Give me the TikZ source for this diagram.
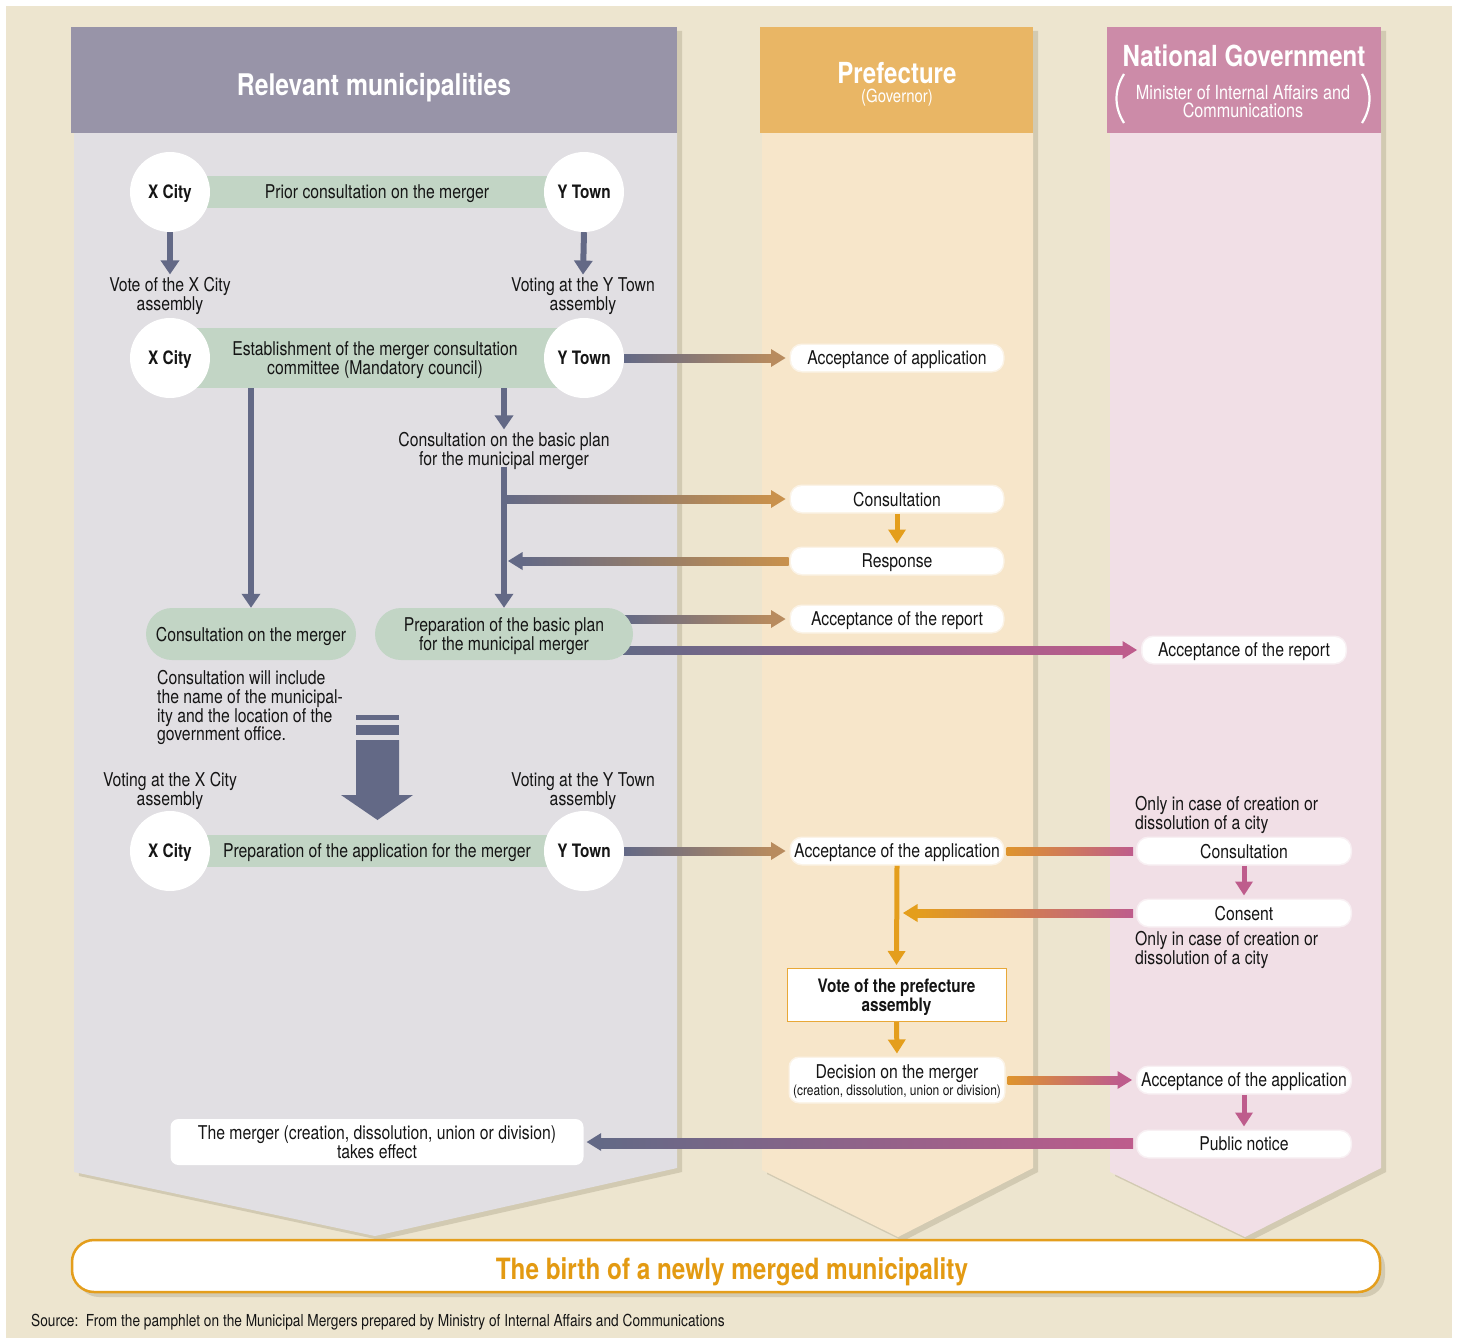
\documentclass[tikz,border=0pt]{standalone}
\usepackage{fontspec}
\setmainfont{TeX Gyre Heros}[FakeStretch=0.83]
\usetikzlibrary{arrows.meta,calc,shapes.misc}
\definecolor{bgc}{HTML}{EDE5CF}
\definecolor{shad}{HTML}{D2CAB2}
\definecolor{lhead}{HTML}{9894A8}
\definecolor{lbody}{HTML}{E1DFE3}
\definecolor{phead}{HTML}{E9B665}
\definecolor{pbody}{HTML}{F7E6CA}
\definecolor{nhead}{HTML}{CC8BA8}
\definecolor{nbody}{HTML}{F1DFE6}
\definecolor{grn}{HTML}{C2D5C5}
\definecolor{slate}{HTML}{636986}
\definecolor{tan}{HTML}{B88B5E}
\definecolor{tanor}{HTML}{C9914C}
\definecolor{orng}{HTML}{E49E1C}
\definecolor{pnk}{HTML}{BE5C8C}
\definecolor{vborder}{HTML}{E8A838}
\definecolor{ttl}{HTML}{E39A12}
\definecolor{txt}{HTML}{151515}
\newcommand\fsz[2]{\fontsize{#1}{#2}\selectfont}
\pgfdeclarelayer{back}
\pgfdeclarelayer{mid}
\pgfsetlayers{back,mid,main}
\newcommand\gradR[4]{%
  \shade[left color=#3,right color=#4] ($(#1)+(0,-4)$) rectangle ($(#2)+(-14,4)$);
  \fill[#4] ($(#2)+(-14.5,-9)$) -- (#2) -- ($(#2)+(-14.5,9)$) -- cycle;}
\newcommand\gradL[4]{%
  \shade[left color=#4,right color=#3] ($(#2)+(14,-4)$) rectangle ($(#1)+(0,4)$);
  \fill[#4] ($(#2)+(14.5,-9)$) -- (#2) -- ($(#2)+(14.5,9)$) -- cycle;}
\newcommand\gradN[4]{%
  \shade[left color=#3,right color=#4] ($(#1)+(0,-4)$) rectangle ($(#2)+(0,4)$);}
\begin{document}
\begin{tikzpicture}[x=1pt,y=-1pt,
  every node/.style={text=txt, font=\fsz{19}{18.6}, text depth=0},
  circ/.style={circle, fill=white, minimum size=80, inner sep=0, font=\bfseries\fsz{18.5}{18.5}},
  bar/.style={fill=grn, inner sep=0, align=center},
  pill/.style={rounded rectangle, fill=grn, minimum height=52, inner ysep=4, inner xsep=1, align=center},
  lbl/.style={align=center, inner sep=1},
  wbox/.style={fill=white, rounded corners=11, minimum height=26, minimum width=212, inner sep=2,
     draw=white, draw opacity=0.55, line width=3, align=center},
  votebox/.style={fill=white, draw=vborder, line width=1, minimum width=219, minimum height=53,
     align=center, font=\bfseries\fsz{18.5}{18.5}},
  hdr/.style={inner sep=0, text=white, align=center},
  sarrow/.style={draw=slate, line width=6, -{Triangle[width=18,length=14]}},
  oarrow/.style={draw=orng, line width=5, -{Triangle[width=17,length=14]}},
  parrow/.style={draw=pnk, line width=5, -{Triangle[width=17,length=14]}},
]
\useasboundingbox (0,0) rectangle (1458,1338);

% ---------- background and columns ----------
\begin{pgfonlayer}{back}
\fill[white] (0,0) rectangle (1458,1338);
\fill[bgc] (6,6) rectangle (1452,1338);
% shadows
\fill[shad] (76,31) -- (682,31) -- (682,1172) -- (380,1240) -- (79,1176) -- cycle;
\fill[shad] (765,31) -- (1038,31) -- (1038,1172) -- (903,1241) -- (767,1174) -- cycle;
\fill[shad] (1112,31) -- (1386,31) -- (1386,1172) -- (1250,1241) -- (1115,1176) -- cycle;
% bodies
\fill[lbody] (74,133) -- (677,133) -- (677,1168) -- (375,1236) -- (74,1172) -- cycle;
\fill[pbody] (762,133) -- (1033,133) -- (1033,1168) -- (898,1237) -- (762,1170) -- cycle;
\fill[nbody] (1110,133) -- (1381,133) -- (1381,1168) -- (1245,1237) -- (1110,1172) -- cycle;
% banner shadow
\fill[shad, rounded corners=22] (77,1245) rectangle (1385,1297);
\end{pgfonlayer}

% ---------- headers ----------
\node[hdr, fill=lhead, minimum width=606, minimum height=106] (hl) at (374,80) {};
\node[hdr, font=\bfseries\fsz{29.8}{29.8}] (hlt) at (374,84) {Relevant municipalities};
\node[hdr, fill=phead, minimum width=273, minimum height=106] (hp) at (896.5,80) {};
\node[hdr, font=\bfseries\fsz{29}{29}] (hpt) at (897,73) {Prefecture};
\node[hdr, font=\fsz{18}{18}] (hps) at (897,96) {(Governor)};
\node[hdr, fill=nhead, minimum width=274, minimum height=106] (hn) at (1244,80) {};
\node[hdr, font=\bfseries\fsz{29}{29}] (hnt) at (1244,56) {National Government};
\node[hdr, font=\fsz{19.5}{18}] (hns) at (1243,101) {Minister of Internal Affairs and\\Communications};
\draw[white, line width=2.2] (1124,74) .. controls (1114,90) and (1114,107) .. (1124,123);
\draw[white, line width=2.2] (1362,74) .. controls (1372,90) and (1372,107) .. (1362,123);

% ---------- left column nodes ----------
\node[bar, minimum width=414, minimum height=32] (b1) at (377,192) {Prior consultation on the merger};
\node[circ] (xc1) at (170,192) {X City};
\node[circ] (yt1) at (584,192) {Y Town};
\node[lbl] (lv1) at (170,294) {Vote of the X City\\assembly};
\node[lbl] (lv2) at (583,294) {Voting at the Y Town\\assembly};

\node[bar, minimum width=414, minimum height=60] (est) at (375,358) {Establishment of the merger consultation\\committee (Mandatory council)};
\node[circ] (xc2) at (170,358) {X City};
\node[circ] (yt2) at (584,358) {Y Town};

\node[lbl] (cbp) at (504,449) {Consultation on the basic plan\\for the municipal merger};
\node[pill, minimum width=212] (cm) at (251,634) {Consultation on the merger};
\node[pill, minimum width=260] (pbp) at (504,634) {Preparation of the basic plan\\for the municipal merger};
\node[align=left, anchor=north west, inner sep=0, font=\fsz{19}{18.8}] (note) at (157,670)
  {Consultation will include\\the name of the municipal-\\ity and the location of the\\government office.};

\node[lbl] (lv3) at (170,789) {Voting at the X City\\assembly};
\node[lbl] (lv4) at (583,789) {Voting at the Y Town\\assembly};
\node[bar, minimum width=414, minimum height=32] (b3) at (377,851) {Preparation of the application for the merger};
\node[circ] (xc3) at (170,851) {X City};
\node[circ] (yt3) at (584,851) {Y Town};

\node[fill=white, rounded corners=8, minimum width=413, minimum height=46, inner sep=2, align=center] (eff)
  at (377,1142) {The merger (creation, dissolution, union or division)\\takes effect};

% big arrow
\fill[slate] (356,715) rectangle (399,720);
\fill[slate] (356,725) rectangle (399,735);
\fill[slate] (356,740) -- (399,740) -- (399,795) -- (413,795) -- (377.5,820) -- (341,795) -- (356,795) -- cycle;

% ---------- prefecture nodes ----------
\node[wbox] (acc1) at (897,358) {Acceptance of application};
\node[wbox] (pcons) at (897,499) {Consultation};
\node[wbox] (resp) at (897,561) {Response};
\node[wbox] (prep) at (897,619) {Acceptance of the report};
\node[wbox] (acc3) at (897,851) {Acceptance of the application};
\node[votebox] (vote) at (896.5,995) {Vote of the prefecture\\assembly};
\node[wbox, minimum height=44, minimum width=214, rounded corners=9] (dec) at (897,1080)
  {Decision on the merger\\[-1pt]{\fsz{14.5}{14}(creation, dissolution, union or division)}};

% ---------- national nodes ----------
\node[wbox, minimum width=203] (nrep) at (1244,650) {Acceptance of the report};
\node[align=left, anchor=north west, inner sep=0, font=\fsz{19}{18.8}] (only1) at (1135,796)
  {Only in case of creation or\\dissolution of a city};
\node[wbox, minimum width=213] (ncons) at (1244,851) {Consultation};
\node[wbox, minimum width=213] (ncon) at (1244,913) {Consent};
\node[align=left, anchor=north west, inner sep=0, font=\fsz{19}{18.8}] (only2) at (1135,931)
  {Only in case of creation or\\dissolution of a city};
\node[wbox, minimum width=213] (nacc) at (1244,1080) {Acceptance of the application};
\node[wbox, minimum width=213] (npub) at (1244,1144) {Public notice};

% ---------- banner and source ----------
\node[fill=white, draw=orng, line width=2.5, rounded corners=22, minimum width=1308, minimum height=52]
  (banner) at (726,1266) {};
\node[text=ttl, font=\bfseries\fsz{29.3}{29.3}, inner sep=0] (bannert) at (732,1269) {The birth of a newly merged municipality};
\node[anchor=west, inner sep=0, font=\fsz{16.5}{16.5}] (src) at (31,1320)
  {Source:\ \ From the pamphlet on the Municipal Mergers prepared by Ministry of Internal Affairs and Communications};

% ---------- connectors ----------
\begin{pgfonlayer}{mid}
\draw[sarrow] (xc1.south) -- ($(lv1.north)+(0,-2)$);
\draw[sarrow] (yt1.south) -- ($(lv2.north)+(0,-2)$);
\draw[sarrow] (est.south -| cm.north) -- (cm.north);
\draw[sarrow] (est.south -| cbp.north) -- ($(cbp.north)+(0,-2)$);
\draw[sarrow] (cbp.south) -- (pbp.north);
% gradient connectors
\coordinate (t1) at ($(acc1.west)+(-4,0)$);
\gradR{yt2.east}{t1}{slate}{tan}
\coordinate (s2) at (cbp.south |- pcons.west);
\coordinate (t2) at ($(pcons.west)+(-4,0)$);
\gradR{s2}{t2}{slate}{tanor}
\coordinate (s3) at ($(resp.west)+(-1,0)$);
\coordinate (t3) at ($(cbp.south |- resp.west)+(4,0)$);
\gradL{s3}{t3}{tanor}{slate}
\coordinate (pe) at ($(pbp.east)+(-10,0)$);
\coordinate (s4) at (pe |- prep.west);
\coordinate (t4) at ($(prep.west)+(-4,0)$);
\gradR{s4}{t4}{slate}{tan}
\coordinate (s5) at (pe |- nrep.west);
\coordinate (t5) at ($(nrep.west)+(-4,0)$);
\gradR{s5}{t5}{slate}{pnk}
\coordinate (t6) at ($(acc3.west)+(-4,0)$);
\gradR{yt3.east}{t6}{slate}{tan}
\coordinate (s7) at ($(acc3.east)+(2,0)$);
\coordinate (t7) at ($(ncons.west)+(-3,0)$);
\gradN{s7}{t7}{orng!85!pnk}{pnk}
\coordinate (s9) at ($(ncon.west)+(-3,0)$);
\coordinate (t9) at ($(acc3.south |- ncon.west)+(6,0)$);
\gradL{s9}{t9}{pnk}{orng}
\coordinate (s12) at ($(dec.east)+(2,0)$);
\coordinate (t12) at ($(nacc.west)+(-4,0)$);
\gradR{s12}{t12}{orng!85!pnk}{pnk}
\coordinate (s14) at ($(npub.west)+(-3,0)$);
\coordinate (t14) at ($(eff.east)+(3,0)$);
\gradL{s14}{t14}{pnk}{slate}
% solid connectors
\draw[oarrow, shorten >=3] (pcons.south) -- (resp.north);
\draw[oarrow, shorten >=3] (acc3.south) -- (vote.north);
\draw[oarrow, shorten >=3] (vote.south) -- (dec.north);
\draw[parrow, shorten >=3] (ncons.south) -- (ncon.north);
\draw[parrow, shorten >=3] (nacc.south) -- (npub.north);
\end{pgfonlayer}
\end{tikzpicture}
\end{document}
